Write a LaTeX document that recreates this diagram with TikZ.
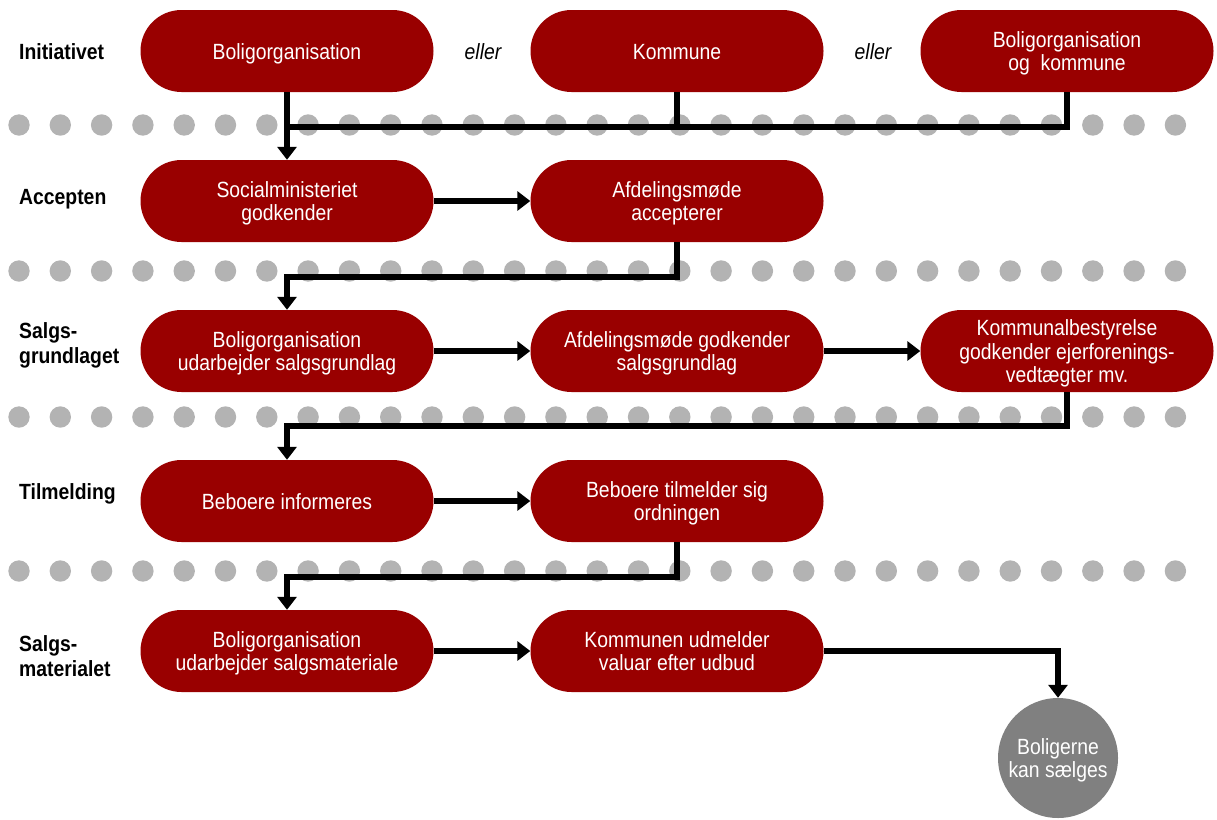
\documentclass[tikz,border=0pt]{standalone}
\usepackage{fontspec}
\setmainfont{Liberation Sans}[FakeStretch=0.88]
\usetikzlibrary{arrows.meta}
\definecolor{boxred}{HTML}{990000}
\definecolor{dotgray}{HTML}{B3B3B3}
\definecolor{circgray}{HTML}{808080}
\newcommand\boxtxt[1]{\begin{tabular}{@{}c@{}}\rule{0pt}{23.5pt}#1\end{tabular}}
\newcommand\lbltxt[1]{\begin{tabular}[t]{@{}l@{}}#1\end{tabular}}
\begin{document}
\begin{tikzpicture}[x=1pt,y=-1pt,
  ctext/.style={inner sep=0pt, font=\fontsize{22}{23.5}\selectfont},
  box/.style={ctext, fill=boxred, text=white, rounded corners=41pt, minimum width=293pt, minimum height=82pt},
  lbl/.style={anchor=base west, inner sep=0pt, font=\fontsize{22}{25}\selectfont\bfseries},
  orword/.style={ctext, font=\fontsize{22}{23.5}\selectfont\itshape},
  conn/.style={line width=6pt, line join=miter},
  arr/.style={conn, -{Triangle[width=19pt,length=13pt]}},
  endcirc/.style={ctext, circle, fill=circgray, text=white, minimum size=120pt},
]
\useasboundingbox (0,0) rectangle (1217,819);

% dotted separators
\foreach \yy in {125,271,417,571}{
  \foreach \i in {0,...,28}{
    \fill[dotgray] ({19+41.3*\i},\yy) circle[radius=10.7pt];
  }
}

% row labels (positions are first-line baselines)
\node[lbl] (l1) at (19,59.3) {\lbltxt{Initiativet}};
\node[lbl] (l2) at (19,204) {\lbltxt{Accepten}};
\node[lbl] (l3) at (19,338) {\lbltxt{Salgs-\\grundlaget}};
\node[lbl] (l4) at (19,499) {\lbltxt{Tilmelding}};
\node[lbl] (l5) at (19,651.5) {\lbltxt{Salgs-\\materialet}};

% row 1
\node[box] (b1) at (287,51) {\boxtxt{Boligorganisation}};
\node[orword] (e1) at (483,51) {\boxtxt{eller}};
\node[box] (k1) at (677,51) {\boxtxt{Kommune}};
\node[orword] (e2) at (873,51) {\boxtxt{eller}};
\node[box] (bk1) at (1067,51) {\boxtxt{Boligorganisation\\og~ kommune}};

% row 2
\node[box] (s2) at (287,201) {\boxtxt{Socialministeriet\\godkender}};
\node[box] (a2) at (677,201) {\boxtxt{Afdelingsmøde\\accepterer}};

% row 3
\node[box] (b3) at (287,351) {\boxtxt{Boligorganisation\\udarbejder salgsgrundlag}};
\node[box] (a3) at (677,351) {\boxtxt{Afdelingsmøde godkender\\salgsgrundlag}};
\node[box] (k3) at (1067,351) {\boxtxt{Kommunalbestyrelse\\godkender ejerforenings-\\vedtægter mv.}};

% row 4
\node[box] (b4) at (287,501) {\boxtxt{Beboere informeres}};
\node[box] (t4) at (677,501) {\boxtxt{Beboere tilmelder sig\\ordningen}};

% row 5
\node[box] (b5) at (287,651) {\boxtxt{Boligorganisation\\udarbejder salgsmateriale}};
\node[box] (k5) at (677,651) {\boxtxt{Kommunen udmelder\\valuar efter udbud}};

% final
\node[endcirc] (end) at (1058,758) {\boxtxt{Boligerne\\kan sælges}};

% junctions
\coordinate (j1) at (287,127);
\coordinate (j2) at (287,277);
\coordinate (j3) at (287,426);
\coordinate (j4) at (287,577);

% connectors
\draw[arr] (b1.south) -- (s2.north);
\draw[conn] (bk1.south) |- (j1);
\draw[conn] (k1.south) -- (k1.south |- j1);

\draw[arr] (s2.east) -- (a2.west);
\draw[arr] (a2.south) |- (j2) -- (b3.north);

\draw[arr] (b3.east) -- (a3.west);
\draw[arr] (a3.east) -- (k3.west);
\draw[arr] (k3.south) |- (j3) -- (b4.north);

\draw[arr] (b4.east) -- (t4.west);
\draw[arr] (t4.south) |- (j4) -- (b5.north);

\draw[arr] (b5.east) -- (k5.west);
\draw[arr] (k5.east) -| (end.north);
\end{tikzpicture}
\end{document}
